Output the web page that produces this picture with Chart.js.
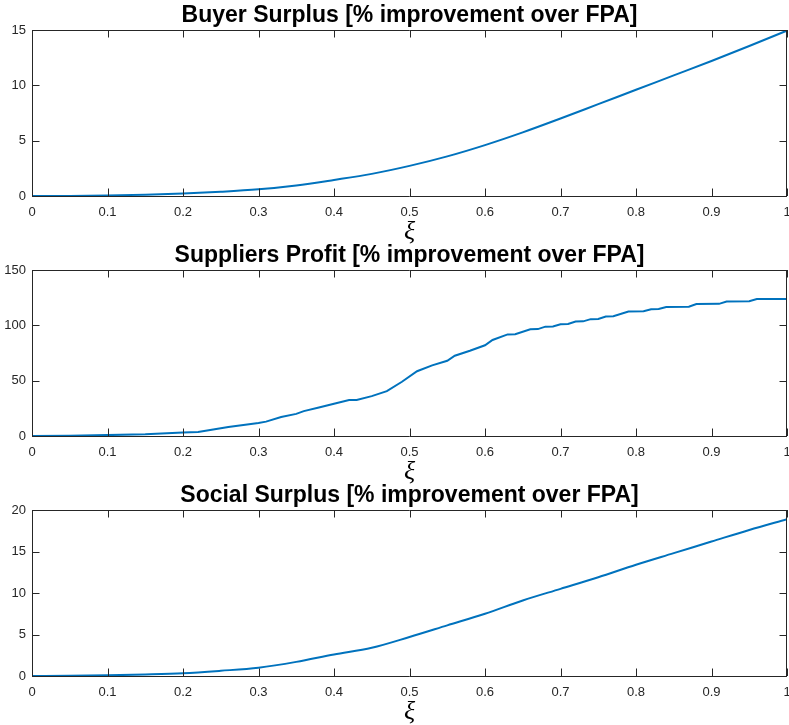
<!DOCTYPE html>
<html>
<head>
<meta charset="utf-8">
<script src="https://cdn.jsdelivr.net/npm/chart.js@4"></script>
<style>
  html, body { margin: 0; padding: 0; background: #ffffff; }
  #wrap { position: relative; width: 789px; height: 725px; background: #ffffff; overflow: hidden; }
  canvas { position: absolute; left: 0; }
</style>
</head>
<body>
<div id="wrap">
  <canvas id="c1" width="789" height="250" style="top:0px"></canvas>
  <canvas id="c2" width="789" height="250" style="top:240px"></canvas>
  <canvas id="c3" width="789" height="245" style="top:480px"></canvas>
</div>
<script>
// ---------- data ----------
const xiTicks = [0, 0.1, 0.2, 0.3, 0.4, 0.5, 0.6, 0.7, 0.8, 0.9, 1];

const buyerXi = [0, 0.05, 0.1, 0.15, 0.2, 0.25, 0.3, 0.35, 0.4, 0.45, 0.5,
                 0.55, 0.6, 0.65, 0.7, 0.75, 0.8, 0.85, 0.9, 0.95, 1.0];
const buyerSurplus = [0, 0.01, 0.05, 0.12, 0.22, 0.38, 0.6, 0.95, 1.45, 2.0, 2.72,
                      3.58, 4.6, 5.75, 7.0, 8.3, 9.6, 10.9, 12.2, 13.55, 14.95];

const supXi = [0, 0.05, 0.1, 0.15, 0.2, 0.22, 0.24, 0.26, 0.28, 0.3, 0.31, 0.33, 0.35, 0.36,
               0.38, 0.4, 0.42, 0.43, 0.45, 0.47, 0.49, 0.51, 0.53, 0.55, 0.56, 0.58, 0.6,
               0.61, 0.63, 0.64, 0.66, 0.67, 0.68, 0.69, 0.7, 0.71, 0.72, 0.73, 0.74, 0.75,
               0.76, 0.77, 0.79, 0.81, 0.82, 0.83, 0.84, 0.87, 0.88, 0.91, 0.92, 0.95, 0.96, 1.0];
const supProfit = [0, 0.2, 0.8, 1.6, 3.2, 3.6, 5.8, 8.2, 10.0, 11.8, 13.0, 17.2, 20.0, 22.5,
                   25.8, 29.2, 32.5, 32.6, 36.0, 40.5, 49.0, 58.5, 63.8, 68.0, 72.5, 77.0, 82.0,
                   86.8, 91.8, 92.0, 96.5, 96.6, 98.8, 99.0, 101.0, 101.2, 103.4, 103.6, 105.6, 105.8,
                   108.0, 108.2, 112.5, 112.7, 114.6, 114.8, 116.6, 116.8, 119.2, 119.4, 121.6, 121.8, 123.8, 123.8];

const socialXi = [0, 0.05, 0.1, 0.15, 0.2, 0.25, 0.3, 0.35, 0.4, 0.45, 0.5,
                  0.55, 0.6, 0.65, 0.7, 0.75, 0.8, 0.85, 0.9, 0.95, 1.0];
const socialSurplus = [0, 0.02, 0.08, 0.18, 0.33, 0.63, 1.0, 1.7, 2.6, 3.4, 4.7,
                       6.1, 7.5, 9.1, 10.5, 11.9, 13.4, 14.8, 16.2, 17.6, 18.9];

const titles = [
  'Buyer Surplus [% improvement over FPA]',
  'Suppliers Profit [% improvement over FPA]',
  'Social Surplus [% improvement over FPA]'
];
const yMax = [15, 150, 20];
const yStep = [5, 50, 5];
const xLabel = 'ξ';

// ---------- styling ----------
const AX = '#262626';
const LINE = '#0072BD';
const SANS = '"Liberation Sans", Arial, Helvetica, sans-serif';

const boxPlugin = {
  id: 'matlabBox',
  afterDraw(chart) {
    const {ctx, chartArea: a, scales} = chart;
    const tl = 7.5;
    ctx.save();
    ctx.strokeStyle = AX;
    ctx.lineWidth = 1;
    ctx.beginPath();
    ctx.rect(Math.round(a.left) + 0.5, Math.round(a.top) + 0.5,
             Math.round(a.right - a.left) - 1, Math.round(a.bottom - a.top));
    scales.x.ticks.forEach(t => {
      const px = Math.round(scales.x.getPixelForValue(t.value)) + 0.5;
      ctx.moveTo(px, a.bottom); ctx.lineTo(px, a.bottom - tl);
      ctx.moveTo(px, a.top); ctx.lineTo(px, a.top + tl);
    });
    scales.y.ticks.forEach(t => {
      const py = Math.round(scales.y.getPixelForValue(t.value)) + 0.5;
      ctx.moveTo(a.left, py); ctx.lineTo(a.left + tl, py);
      ctx.moveTo(a.right, py); ctx.lineTo(a.right - tl, py);
    });
    ctx.stroke();
    ctx.restore();
  }
};

function makeChart(id, idx, xs, ys, smooth, axisH) {
  const pts = xs.map((x, i) => ({x: x, y: ys[i]}));
  return new Chart(document.getElementById(id), {
    type: 'line',
    data: {
      datasets: [{
        data: pts,
        borderColor: LINE,
        borderWidth: 2,
        pointRadius: 0,
        fill: false,
        tension: smooth ? 0.4 : 0,
        cubicInterpolationMode: smooth ? 'monotone' : 'default'
      }]
    },
    options: {
      responsive: false,
      animation: false,
      devicePixelRatio: 1,
      layout: { padding: { left: 0, right: 2, top: 0, bottom: 0 } },
      plugins: {
        legend: { display: false },
        tooltip: { enabled: false },
        title: {
          display: true,
          text: titles[idx],
          fullSize: false,
          color: '#000000',
          font: { family: SANS, size: 23, weight: 'bold', lineHeight: 1 },
          padding: { top: 4, bottom: 3 }
        }
      },
      scales: {
        x: {
          type: 'linear',
          min: 0, max: 1,
          afterBuildTicks(s) { s.ticks = xiTicks.map(v => ({value: v})); },
          afterFit(s) { s.height = axisH; s.paddingLeft = 0; s.paddingRight = 0; },
          grid: { display: false, drawTicks: false },
          border: { display: false },
          ticks: {
            autoSkip: false,
            maxRotation: 0,
            color: AX,
            padding: 9,
            font: { family: SANS, size: 13 },
            callback: v => String(Math.round(v * 10) / 10)
          },
          title: {
            display: true,
            text: xLabel,
            color: '#000000',
            font: { family: '"Liberation Serif", "DejaVu Serif", serif', size: 26, style: 'italic', lineHeight: 1 },
            padding: { top: 0, bottom: axisH - 44 - 5 }
          }
        },
        y: {
          type: 'linear',
          min: 0, max: yMax[idx],
          afterFit(s) { s.width = 32; s.paddingTop = 0; s.paddingBottom = 0; },
          grid: { display: false, drawTicks: false },
          border: { display: false },
          ticks: {
            stepSize: yStep[idx],
            color: AX,
            padding: 6,
            font: { family: SANS, size: 13 }
          }
        }
      }
    },
    plugins: [boxPlugin]
  });
}

makeChart('c1', 0, buyerXi, buyerSurplus, true, 54);
makeChart('c2', 1, supXi, supProfit, false, 54);
makeChart('c3', 2, socialXi, socialSurplus, true, 49);
</script>
</body>
</html>
